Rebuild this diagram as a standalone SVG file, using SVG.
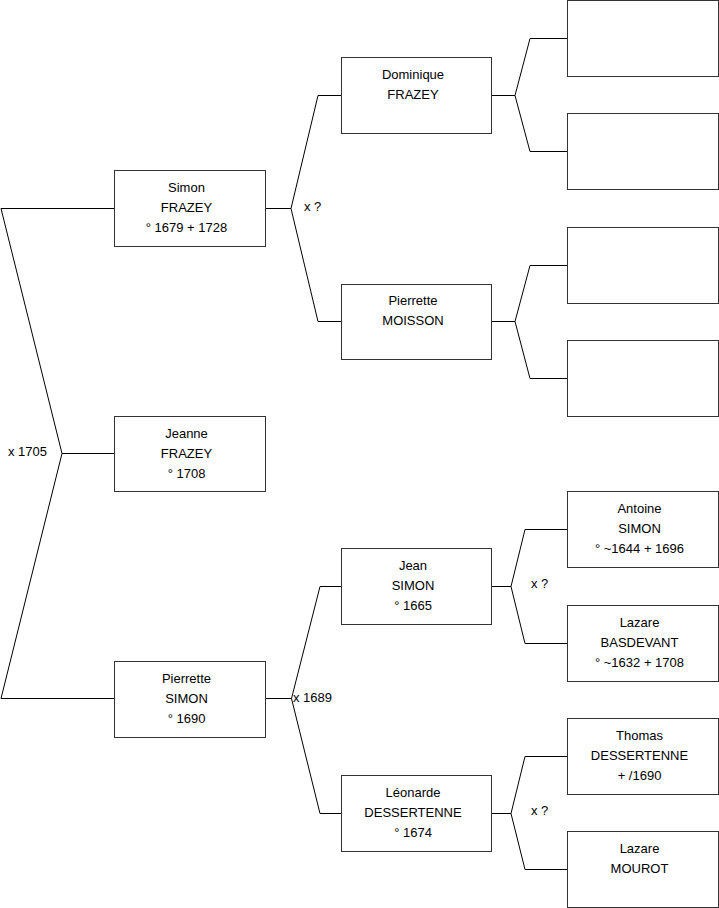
<svg xmlns="http://www.w3.org/2000/svg" width="719" height="908" viewBox="0 0 719 908">
<style>
.box{fill:#fff;stroke:#333;stroke-width:1}
.ln{fill:none;stroke:#000;stroke-width:1}
text{font-family:"Liberation Sans",Arial,sans-serif;font-size:13px;fill:#000}
.c{text-anchor:middle}
</style>
<rect width="719" height="908" fill="#fff"/>
<g id="connectors">
<polyline class="ln" points="114,208.5 1,208.5 62,453.5 1,698.5 114,698.5"/>
<line class="ln" x1="62" y1="453.5" x2="114" y2="453.5"/>
<text x="8" y="456">x 1705</text>
<polyline class="ln" points="341,95.5 318,95.5 291,208.5 318,321.5 341,321.5"/>
<line class="ln" x1="265" y1="208.5" x2="291" y2="208.5"/>
<text x="304" y="211">x ?</text>
<polyline class="ln" points="341,586.5 320,586.5 291.5,698.5 320,813.5 341,813.5"/>
<line class="ln" x1="265" y1="698.5" x2="291.5" y2="698.5"/>
<text x="293" y="702">x 1689</text>
<polyline class="ln" points="567,38.5 530,38.5 515,95.5 530,151.5 567,151.5"/>
<line class="ln" x1="492" y1="95.5" x2="515" y2="95.5"/>
<polyline class="ln" points="567,265.5 530,265.5 515,321.5 530,378.5 567,378.5"/>
<line class="ln" x1="492" y1="321.5" x2="515" y2="321.5"/>
<polyline class="ln" points="567,529.5 525,529.5 511,586.5 525,643.5 567,643.5"/>
<line class="ln" x1="492" y1="586.5" x2="511" y2="586.5"/>
<text x="531" y="588">x ?</text>
<polyline class="ln" points="567,756.5 525,756.5 511,813.5 525,869.5 567,869.5"/>
<line class="ln" x1="492" y1="813.5" x2="511" y2="813.5"/>
<text x="531" y="815">x ?</text>
</g>
<g id="simon-frazey"><rect class="box" x="114.5" y="170.5" width="151" height="76"/>
<text class="c" x="186.5" y="191.5">Simon</text><text class="c" x="186.5" y="211.5">FRAZEY</text><text class="c" x="186.5" y="231.5">° 1679 + 1728</text></g>
<g id="jeanne-frazey"><rect class="box" x="114.5" y="416.5" width="151" height="75"/>
<text class="c" x="186.5" y="437.5">Jeanne</text><text class="c" x="186.5" y="457.5">FRAZEY</text><text class="c" x="186.5" y="477.5">° 1708</text></g>
<g id="pierrette-simon"><rect class="box" x="114.5" y="661.5" width="151" height="76"/>
<text class="c" x="186.5" y="682.5">Pierrette</text><text class="c" x="186.5" y="702.5">SIMON</text><text class="c" x="186.5" y="722.5">° 1690</text></g>
<g id="dominique-frazey"><rect class="box" x="341.5" y="57.5" width="150" height="76"/>
<text class="c" x="413" y="78.5">Dominique</text><text class="c" x="413" y="98.5">FRAZEY</text></g>
<g id="pierrette-moisson"><rect class="box" x="341.5" y="284.5" width="150" height="75"/>
<text class="c" x="413" y="304.5">Pierrette</text><text class="c" x="413" y="324.5">MOISSON</text></g>
<g id="jean-simon"><rect class="box" x="341.5" y="548.5" width="150" height="76"/>
<text class="c" x="413" y="569.5">Jean</text><text class="c" x="413" y="589.5">SIMON</text><text class="c" x="413" y="609.5">° 1665</text></g>
<g id="leonarde-dessertenne"><rect class="box" x="341.5" y="775.5" width="150" height="76"/>
<text class="c" x="413" y="796.5">Léonarde</text><text class="c" x="413" y="816.5">DESSERTENNE</text><text class="c" x="413" y="836.5">° 1674</text></g>
<g id="unknown-1"><rect class="box" x="567.5" y="0.5" width="151" height="76"/></g>
<g id="unknown-2"><rect class="box" x="567.5" y="113.5" width="151" height="76"/></g>
<g id="unknown-3"><rect class="box" x="567.5" y="227.5" width="151" height="76"/></g>
<g id="unknown-4"><rect class="box" x="567.5" y="340.5" width="151" height="76"/></g>
<g id="antoine-simon"><rect class="box" x="567.5" y="491.5" width="151" height="76"/>
<text class="c" x="639.5" y="512.5">Antoine</text><text class="c" x="639.5" y="532.5">SIMON</text><text class="c" x="639.5" y="552.5">° ~1644 + 1696</text></g>
<g id="lazare-basdevant"><rect class="box" x="567.5" y="605.5" width="151" height="76"/>
<text class="c" x="639.5" y="626.5">Lazare</text><text class="c" x="639.5" y="646.5">BASDEVANT</text><text class="c" x="639.5" y="666.5">° ~1632 + 1708</text></g>
<g id="thomas-dessertenne"><rect class="box" x="567.5" y="718.5" width="151" height="76"/>
<text class="c" x="639.5" y="739.5">Thomas</text><text class="c" x="639.5" y="759.5">DESSERTENNE</text><text class="c" x="639.5" y="779.5">+ /1690</text></g>
<g id="lazare-mourot"><rect class="box" x="567.5" y="831.5" width="151" height="76"/>
<text class="c" x="639.5" y="852.5">Lazare</text><text class="c" x="639.5" y="872.5">MOUROT</text></g>
</svg>
